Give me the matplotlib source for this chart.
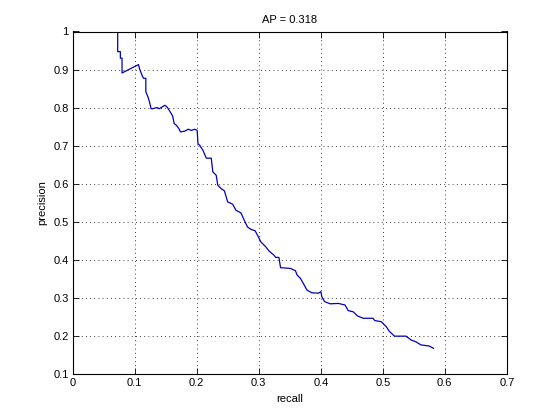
import matplotlib
matplotlib.use("Agg")
import matplotlib.pyplot as plt
from matplotlib.ticker import FormatStrFormatter

# precision / recall points
recall = [0.0724, 0.0724, 0.0767, 0.0767, 0.0794, 0.0794, 0.106, 0.1076, 0.1114, 0.114,
          0.1178, 0.1178, 0.121, 0.1235, 0.1263, 0.129, 0.1354, 0.1395, 0.1434, 0.1486,
          0.1523, 0.1566, 0.161, 0.1635, 0.1673, 0.171, 0.1737, 0.1806, 0.1859, 0.1913,
          0.1966, 0.2006, 0.2019, 0.2046, 0.2098, 0.2153, 0.2233, 0.2258, 0.2313, 0.2338,
          0.2392, 0.2445, 0.2498, 0.2578, 0.2632, 0.2712, 0.2765, 0.2818, 0.2872, 0.2941,
          0.2993, 0.3032, 0.3112, 0.3164, 0.3244, 0.3272, 0.3324, 0.3351, 0.3511, 0.3591,
          0.3617, 0.3671, 0.3724, 0.3777, 0.3857, 0.3964, 0.4001, 0.4016, 0.4059, 0.4151,
          0.4283, 0.439, 0.4443, 0.4523, 0.4592, 0.4683, 0.4843, 0.487, 0.4975, 0.5055,
          0.5109, 0.5189, 0.5375, 0.5455, 0.5535, 0.5615, 0.5749, 0.5818]
precision = [1.000, 0.947, 0.947, 0.930, 0.930, 0.891, 0.913, 0.902, 0.886, 0.877,
             0.877, 0.841, 0.829, 0.816, 0.797, 0.797, 0.800, 0.797, 0.801, 0.806,
             0.801, 0.790, 0.778, 0.758, 0.753, 0.745, 0.736, 0.738, 0.743, 0.740,
             0.743, 0.740, 0.705, 0.701, 0.688, 0.667, 0.667, 0.631, 0.622, 0.596,
             0.587, 0.581, 0.552, 0.546, 0.530, 0.523, 0.504, 0.486, 0.480, 0.476,
             0.460, 0.447, 0.434, 0.423, 0.412, 0.406, 0.406, 0.379, 0.377, 0.371,
             0.360, 0.351, 0.336, 0.320, 0.313, 0.312, 0.316, 0.303, 0.290, 0.284,
             0.285, 0.281, 0.266, 0.263, 0.252, 0.246, 0.246, 0.240, 0.237, 0.224,
             0.211, 0.199, 0.199, 0.189, 0.184, 0.176, 0.173, 0.167]
ap = 0.318

xticks = [0, 0.1, 0.2, 0.3, 0.4, 0.5, 0.6, 0.7]
yticks = [0.1, 0.2, 0.3, 0.4, 0.5, 0.6, 0.7, 0.8, 0.9, 1.0]

plt.rcParams['font.family'] = ['Liberation Sans', 'DejaVu Sans']
plt.rcParams['font.size'] = 8

fig = plt.figure(figsize=(5.6, 4.2), dpi=100)
ax = fig.add_axes([0.13, 0.11, 0.775, 0.815])

ax.plot(recall, precision, color='#0000c0', linewidth=0.9)

ax.set_xlim(0, 0.7)
ax.set_ylim(0.1, 1)
ax.set_xticks(xticks)
ax.set_yticks(yticks)
ax.xaxis.set_major_formatter(FormatStrFormatter('%g'))
ax.yaxis.set_major_formatter(FormatStrFormatter('%g'))
ax.tick_params(direction='in', top=True, right=True, length=4, width=0.6, pad=3)
for s in ax.spines.values():
    s.set_linewidth(0.8)

ax.grid(True, color='black', linestyle=(0, (1, 4)), linewidth=0.6)

ax.set_xlabel('recall')
ax.set_ylabel('precision')
ax.set_title('AP = %.3f' % ap, fontsize=8)

fig.savefig('out.png', dpi=100)
